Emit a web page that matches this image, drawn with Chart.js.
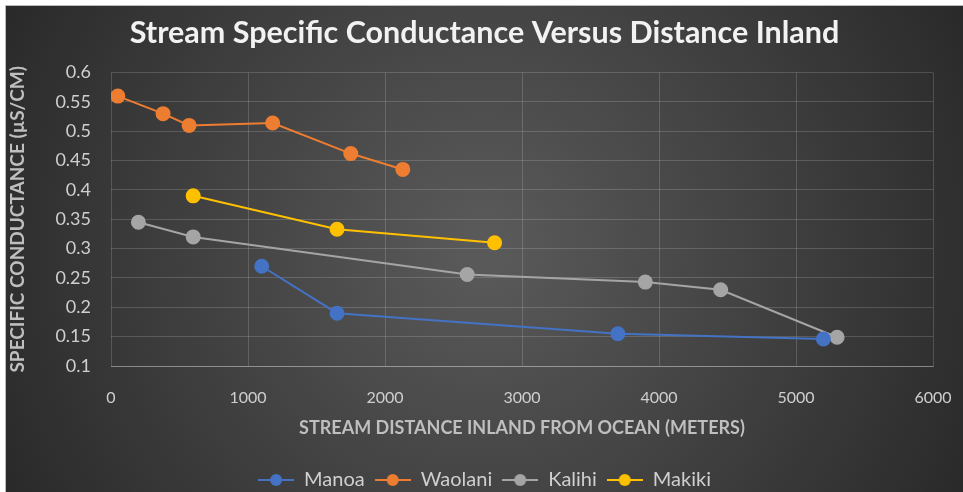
<!DOCTYPE html>
<html>
<head>
<meta charset="utf-8">
<script src="https://cdn.jsdelivr.net/npm/chart.js@4.4.1/dist/chart.umd.min.js"></script>
<style>
  html, body { margin: 0; padding: 0; background: #fff; }
  #wrap { position: absolute; left: 5px; top: 5px; width: 958px; height: 487px; border-left: 1px solid #bbb; border-top: 1px solid #bbb; box-sizing: border-box; }
  canvas { display: block; }
</style>
</head>
<body>
<div id="wrap"><canvas id="c" width="957" height="486"></canvas></div>
<script>
// values
const SERIES_NAMES = ["Manoa", "Waolani", "Kalihi", "Makiki"];
const SERIES_COLORS = ["#4472C4", "#ED7D31", "#A5A5A5", "#FFC000"];

const manoaX = [1100, 1650, 3700, 5200];
const manoaY = [0.27, 0.19, 0.155, 0.146];
const waolaniX = [50, 380, 570, 1180, 1750, 2130];
const waolaniY = [0.56, 0.53, 0.51, 0.514, 0.462, 0.435];
const kalihiX = [200, 600, 2600, 3900, 4450, 5300];
const kalihiY = [0.345, 0.32, 0.256, 0.243, 0.23, 0.149];
const makikiX = [600, 1650, 2800];
const makikiY = [0.39, 0.333, 0.31];

const X_TICKS = [0, 1000, 2000, 3000, 4000, 5000, 6000];
const Y_TICKS = [0.1, 0.15, 0.2, 0.25, 0.3, 0.35, 0.4, 0.45, 0.5, 0.55, 0.6];

const FONT = "Lato, 'Open Sans', sans-serif";
const TICK_COLOR = "#cfcfcf";

function pts(xs, ys) {
  return xs.map((x, i) => ({ x: x, y: ys[i] }));
}
const allData = [pts(manoaX, manoaY), pts(waolaniX, waolaniY), pts(kalihiX, kalihiY), pts(makikiX, makikiY)];

// little line+dot marker for the legend
function legendMark(color) {
  const c = document.createElement("canvas");
  c.width = 36; c.height = 14;
  const g = c.getContext("2d");
  g.strokeStyle = color; g.lineWidth = 2;
  g.beginPath(); g.moveTo(0, 7); g.lineTo(36, 7); g.stroke();
  g.fillStyle = color;
  g.beginPath(); g.arc(18, 7, 6, 0, Math.PI * 2); g.fill();
  return c;
}

const bgPlugin = {
  id: "bg",
  beforeDraw(chart) {
    const { ctx, width, height } = chart;
    const gr = ctx.createRadialGradient(width * 0.5, height * 0.5, 20, width * 0.5, height * 0.5, width * 0.6);
    gr.addColorStop(0, "#595959");
    gr.addColorStop(1, "#262626");
    ctx.save();
    ctx.fillStyle = gr;
    ctx.fillRect(0, 0, width, height);
    ctx.restore();
  },
};

new Chart(document.getElementById("c"), {
  type: "line",
  data: {
    datasets: SERIES_NAMES.map((name, i) => ({
      label: name,
      data: allData[i],
      borderColor: SERIES_COLORS[i],
      backgroundColor: SERIES_COLORS[i],
      pointBackgroundColor: SERIES_COLORS[i],
      pointBorderColor: SERIES_COLORS[i],
      borderWidth: 2,
      pointRadius: 6.5,
      pointHoverRadius: 6.5,
      tension: 0,
    })),
  },
  options: {
    responsive: false,
    animation: false,
    layout: { padding: { left: 0, right: 0, top: 0, bottom: -8 } },
    plugins: {
      title: {
        display: true,
        text: "Stream Specific Conductance Versus Distance Inland",
        color: "#f2f2f2",
        font: { family: FONT, size: 30.5, weight: "bold" },
        padding: { top: 9, bottom: 21 },
      },
      legend: {
        position: "bottom",
        labels: {
          color: TICK_COLOR,
          font: { family: FONT, size: 20 },
          boxWidth: 36,
          boxHeight: 14,
          pointStyleWidth: 36,
          padding: 10,
          usePointStyle: true,
          generateLabels(chart) {
            return chart.data.datasets.map((ds, i) => ({
              text: ds.label,
              fontColor: TICK_COLOR,
              pointStyle: legendMark(SERIES_COLORS[i]),
              datasetIndex: i,
              lineWidth: 0,
            }));
          },
        },
      },
      tooltip: { enabled: false },
    },
    scales: {
      x: {
        type: "linear",
        min: 0,
        max: 6000,
        afterBuildTicks(s) { s.ticks = X_TICKS.map((v) => ({ value: v })); },
        afterFit(s) { s.height = 94; s.paddingRight = 30; s.paddingLeft = 0; },
        grid: { color: "rgba(255,255,255,0.16)", drawTicks: false },
        border: { color: "rgba(255,255,255,0.3)" },
        ticks: { color: TICK_COLOR, font: { family: FONT, size: 16 }, padding: 22, maxRotation: 0, callback: (v) => String(v) },
        title: {
          display: true,
          text: "STREAM DISTANCE INLAND FROM OCEAN (METERS)",
          color: "#bfbfbf",
          font: { family: FONT, size: 18, weight: "bold" },
          padding: { top: 0, bottom: 21 },
        },
      },
      y: {
        type: "linear",
        min: 0.1,
        max: 0.6,
        afterBuildTicks(s) { s.ticks = Y_TICKS.map((v) => ({ value: v })); },
        afterFit(s) { s.width = 105; },
        grid: { color: "rgba(255,255,255,0.16)", drawTicks: false },
        border: { display: false },
        ticks: {
          color: TICK_COLOR,
          font: { family: FONT, size: 18 },
          padding: 20,
          callback: (v) => String(+v.toFixed(2)),
        },
        title: {
          display: true,
          text: "SPECIFIC CONDUCTANCE (µS/CM)",
          color: "#bfbfbf",
          font: { family: FONT, size: 19, weight: "bold" },
          padding: { top: 0, bottom: 2 },
        },
      },
    },
  },
  plugins: [bgPlugin],
});
</script>
</body>
</html>
